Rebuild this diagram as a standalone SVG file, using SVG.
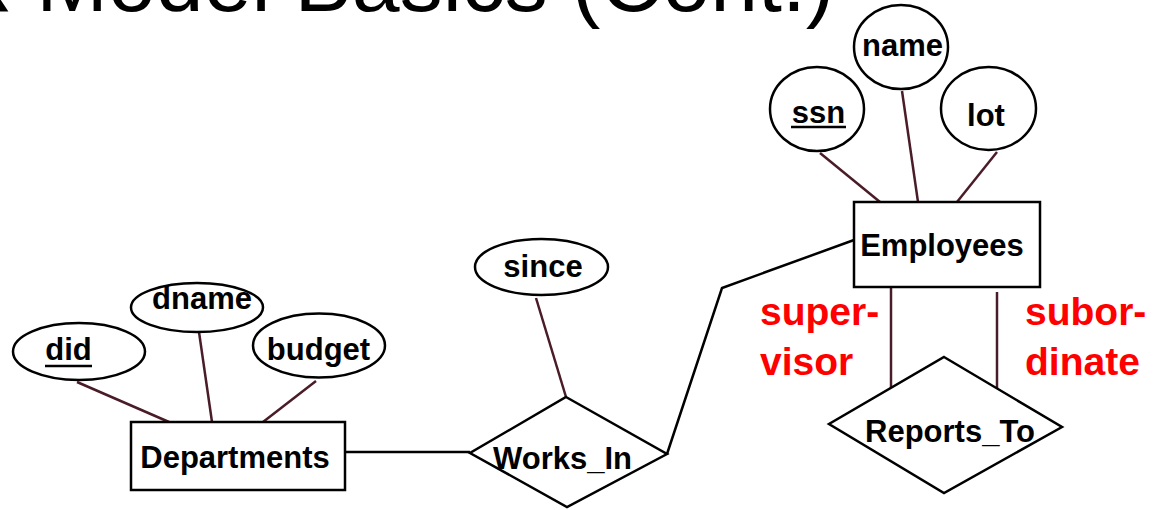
<svg xmlns="http://www.w3.org/2000/svg" width="1153" height="510" viewBox="0 0 1153 510">
  <style>
    .shape { fill: #ffffff; stroke: #000000; stroke-width: 2.5; }
    .attr-link { stroke: #4a1c28; stroke-width: 2.5; fill: none; }
    .rel-link { stroke: #000000; stroke-width: 2.5; fill: none; }
    .label { font-family: "Liberation Sans", Arial, sans-serif; font-weight: bold; font-size: 31px; fill: #000000; text-anchor: middle; }
    .role { font-family: "Liberation Sans", Arial, sans-serif; font-weight: bold; font-size: 39px; fill: #ff0000; }
    .title { font-family: "Liberation Sans", Arial, sans-serif; font-size: 86px; fill: #000000; }
  </style>
  <rect width="1153" height="510" fill="#ffffff"/>

  <!-- slide title, running off the top edge -->
  <text class="title" x="-107" y="11">ER Model Basics (Cont.)</text>

  <!-- connectors -->
  <g id="connectors">
    <line class="attr-link" x1="77" y1="382" x2="169" y2="422"/>
    <line class="attr-link" x1="199" y1="332" x2="212" y2="422"/>
    <line class="attr-link" x1="316" y1="381" x2="263" y2="422"/>
    <line class="attr-link" x1="536" y1="298" x2="566" y2="397"/>
    <line class="attr-link" x1="820" y1="153" x2="880" y2="202"/>
    <line class="attr-link" x1="902" y1="91" x2="918" y2="202"/>
    <line class="attr-link" x1="997" y1="152" x2="957" y2="202"/>
    <line class="attr-link" x1="891" y1="287" x2="891" y2="390"/>
    <line class="attr-link" x1="997" y1="292" x2="997" y2="388"/>
    <line class="rel-link" x1="345" y1="452" x2="470" y2="452"/>
    <polyline class="rel-link" points="667,454 722,288 854,240"/>
  </g>

  <!-- Departments entity and attributes -->
  <g id="did">
    <ellipse class="shape" cx="79" cy="351.5" rx="66" ry="28.5"/>
    <text class="label" x="68.5" y="360">did</text>
    <line x1="45" y1="366" x2="92" y2="366" stroke="#000000" stroke-width="2.5"/>
  </g>
  <g id="dname">
    <ellipse class="shape" cx="197" cy="307.5" rx="66" ry="24.5"/>
    <text class="label" x="202" y="309">dname</text>
  </g>
  <g id="budget">
    <ellipse class="shape" cx="319" cy="345.5" rx="66" ry="32"/>
    <text class="label" x="318.5" y="360">budget</text>
  </g>
  <g id="departments">
    <rect class="shape" x="131" y="422" width="214" height="68"/>
    <text class="label" x="235" y="468">Departments</text>
  </g>

  <!-- Works_In relationship -->
  <g id="since">
    <ellipse class="shape" cx="541.5" cy="267" rx="66.5" ry="28"/>
    <text class="label" x="543" y="277">since</text>
  </g>
  <g id="works_in">
    <polygon class="shape" points="566,397 667,454 567,507 470,453"/>
    <text class="label" x="562.5" y="469">Works_In</text>
  </g>

  <!-- Employees entity and attributes -->
  <g id="ssn">
    <ellipse class="shape" cx="817" cy="109" rx="47" ry="42"/>
    <text class="label" x="818.5" y="123">ssn</text>
    <line x1="791" y1="127" x2="846" y2="127" stroke="#000000" stroke-width="2.5"/>
  </g>
  <g id="name">
    <ellipse class="shape" cx="901" cy="47" rx="47" ry="42"/>
    <text class="label" x="902.5" y="56">name</text>
  </g>
  <g id="lot">
    <ellipse class="shape" cx="988.5" cy="108.5" rx="47.5" ry="41.5"/>
    <text class="label" x="986" y="126">lot</text>
  </g>
  <g id="employees">
    <rect class="shape" x="854" y="202" width="186" height="85"/>
    <text class="label" x="942" y="256">Employees</text>
  </g>

  <!-- Reports_To relationship with role names -->
  <g id="reports_to">
    <polygon class="shape" points="944,357 1062,427 944,493 829,424"/>
    <text class="label" x="950" y="442">Reports_To</text>
  </g>
  <g id="role-supervisor">
    <text class="role" x="760" y="325">super-</text>
    <text class="role" x="760" y="375">visor</text>
  </g>
  <g id="role-subordinate">
    <text class="role" x="1025" y="325">subor-</text>
    <text class="role" x="1025" y="375">dinate</text>
  </g>
</svg>
